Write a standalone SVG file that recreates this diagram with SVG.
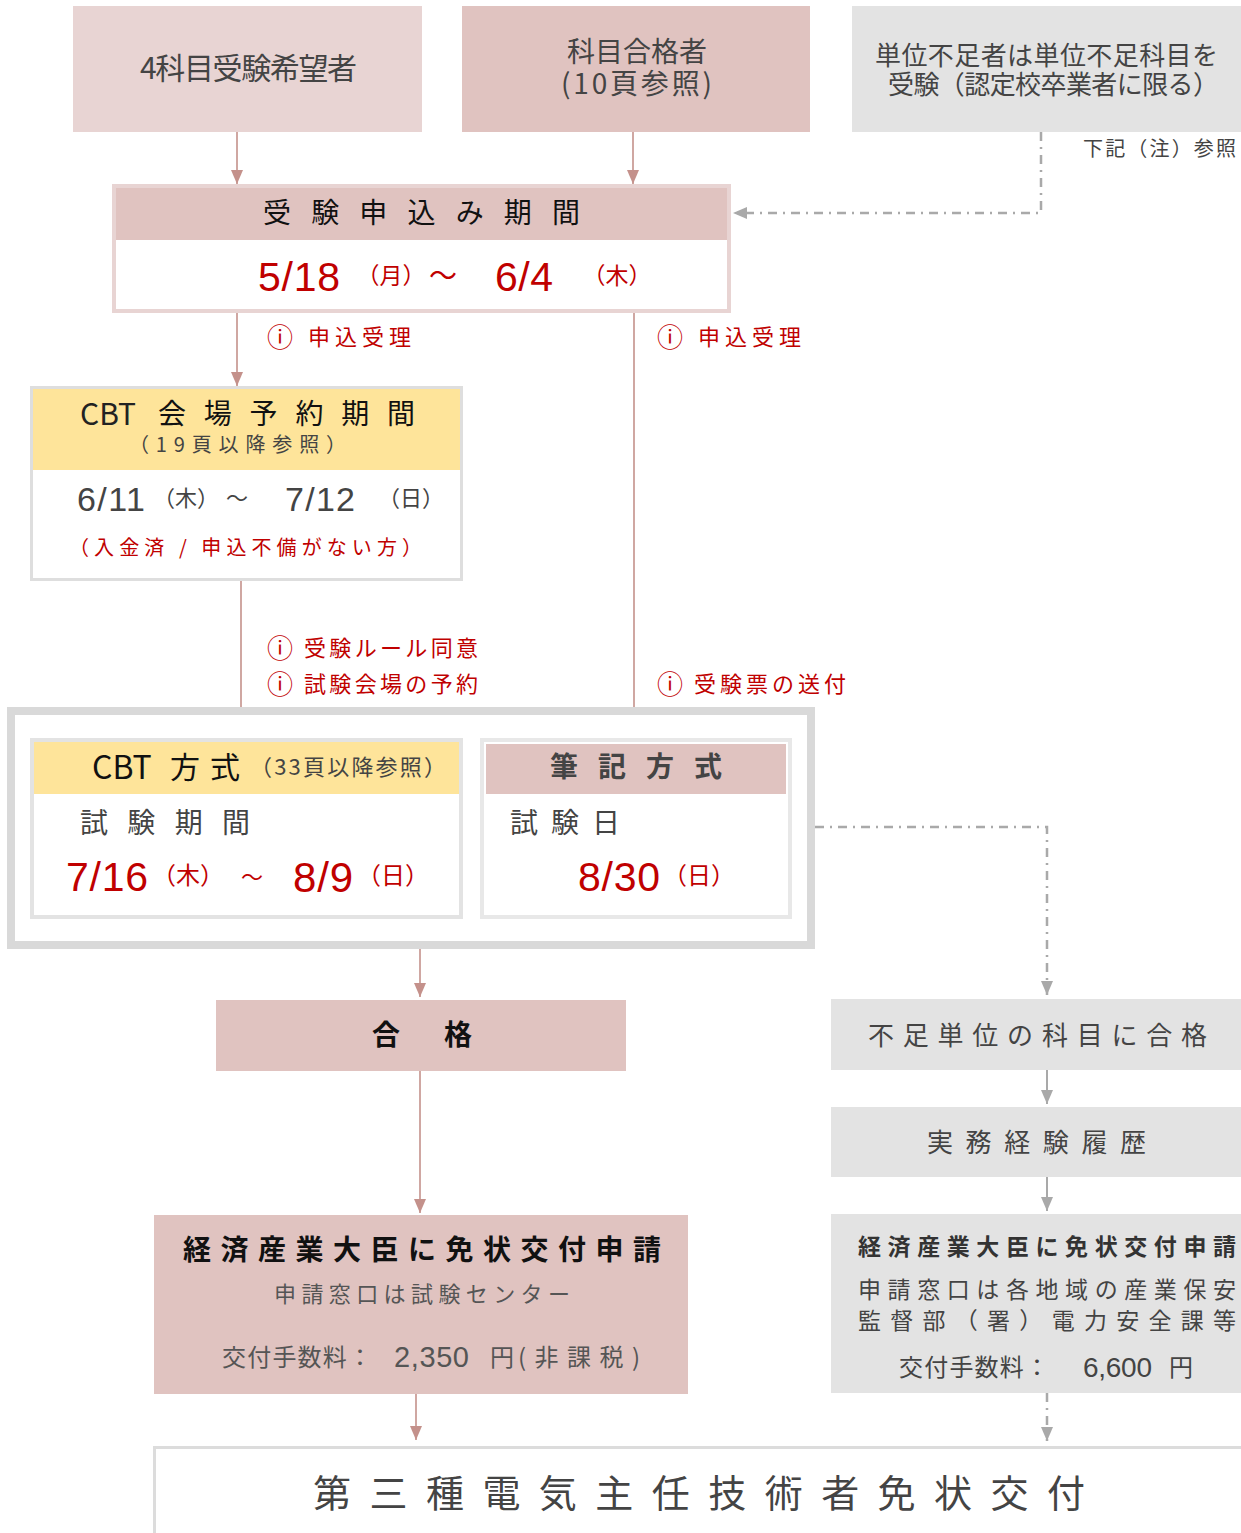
<svg xmlns="http://www.w3.org/2000/svg" width="1241" height="1533" viewBox="0 0 1241 1533">
<defs>
<style>
text{font-family:'Noto Sans CJK JP','Noto Sans',sans-serif;dominant-baseline:central}
.n{font-family:'Liberation Sans',Arial,sans-serif}
.g{fill:#444}
.r{fill:#c00000}
.k{fill:#111}
.i{font-size:26px}
.pk{stroke:#c4918b;stroke-width:1.6;fill:none}
.gy{stroke:#a9a9a9;stroke-width:2.5;fill:none;stroke-dasharray:9 6 2 6}
.gs{stroke:#a9a9a9;stroke-width:2;fill:none}
</style>
<marker id="ap" viewBox="0 0 14 12" markerWidth="14" markerHeight="12" refX="14" refY="6" orient="auto" markerUnits="userSpaceOnUse"><path d="M0,0L14,6L0,12Z" fill="#c4918b"/></marker>
<marker id="ag" viewBox="0 0 14 12" markerWidth="14" markerHeight="12" refX="14" refY="6" orient="auto" markerUnits="userSpaceOnUse"><path d="M0,0L14,6L0,12Z" fill="#a9a9a9"/></marker>
</defs>
<rect width="1241" height="1533" fill="#fff"/>

<g id="connectors">
<path class="pk" d="M237,132V184" marker-end="url(#ap)"/>
<path class="pk" d="M633,132V184" marker-end="url(#ap)"/>
<path class="pk" d="M237,313V386" marker-end="url(#ap)"/>
<path class="pk" d="M634,313V733" marker-end="url(#ap)"/>
<path class="pk" d="M241,580V737" marker-end="url(#ap)"/>
<path class="pk" d="M420,948V997" marker-end="url(#ap)"/>
<path class="pk" d="M420,1071V1213" marker-end="url(#ap)"/>
<path class="pk" d="M416,1394V1440" marker-end="url(#ap)"/>
<path class="gy" d="M1041,132V213H733" marker-end="url(#ag)"/>
<path class="gy" d="M815,827H1047V995" marker-end="url(#ag)"/>
<path class="gy" d="M1047,1393V1441" marker-end="url(#ag)"/>
<path class="gs" d="M1047,1070V1104" marker-end="url(#ag)"/>
<path class="gs" d="M1047,1177V1211" marker-end="url(#ag)"/>
</g>

<g id="n-4kamoku">
<rect x="73" y="6" width="349" height="126" fill="#e8d4d3"/>
<text class="g" x="140" y="66" font-size="30" textLength="217" lengthAdjust="spacing">4科目受験希望者</text>
</g>

<g id="n-kamokugoukaku">
<rect x="462" y="6" width="348" height="126" fill="#e0c3c0"/>
<text class="g" font-size="28"><tspan x="567" y="50" textLength="140" lengthAdjust="spacing">科目合格者</tspan><tspan x="561" y="82" textLength="151" lengthAdjust="spacing">(10頁参照)</tspan></text>
</g>

<g id="n-tanibusoku">
<rect x="852" y="6" width="389" height="126" fill="#e3e3e3"/>
<text class="g" font-size="26"><tspan x="875" y="53" textLength="343" lengthAdjust="spacing">単位不足者は単位不足科目を</tspan><tspan x="888" y="82" textLength="331" lengthAdjust="spacing">受験（認定校卒業者に限る）</tspan></text>
</g>
<text id="note" class="g" x="1083" y="147" font-size="20" textLength="153" lengthAdjust="spacing">下記（注）参照</text>

<g id="n-moushikomi">
<rect x="114" y="186" width="615" height="125" fill="#fff" stroke="#e8d4d3" stroke-width="4"/>
<rect x="116" y="188" width="611" height="52" fill="#e0c3c0"/>
<text class="k" x="263" y="211" font-size="28" textLength="317" lengthAdjust="spacing">受験申込み期間</text>
<text class="r n" x="258" y="277" font-size="41" textLength="82" lengthAdjust="spacing">5/18</text>
<text class="r" x="391" y="274" font-size="23" text-anchor="middle">（月）</text>
<text class="r" x="443" y="274" font-size="28" text-anchor="middle">〜</text>
<text class="r n" x="495" y="277" font-size="41" textLength="58" lengthAdjust="spacing">6/4</text>
<text class="r" x="617" y="274" font-size="23" text-anchor="middle">（木）</text>
</g>

<g id="lbl-uketsuke1">
<text class="r i" x="280" y="335" text-anchor="middle">ⓘ</text>
<text class="r" x="308" y="335" font-size="22" textLength="103" lengthAdjust="spacing">申込受理</text>
</g>
<g id="lbl-uketsuke2">
<text class="r i" x="670" y="335" text-anchor="middle">ⓘ</text>
<text class="r" x="698" y="335" font-size="22" textLength="103" lengthAdjust="spacing">申込受理</text>
</g>

<g id="n-cbtyoyaku">
<rect x="31.5" y="387.5" width="430" height="192" fill="#fff" stroke="#dedede" stroke-width="3"/>
<rect x="33" y="389" width="427" height="81" fill="#fee49a"/>
<text fill="#222" font-size="28"><tspan x="80" y="412" font-size="30">CBT</tspan><tspan x="158" y="412" fill="#111" textLength="257" lengthAdjust="spacing">会場予約期間</tspan><tspan x="129" y="443" font-size="20" fill="#444" textLength="217" lengthAdjust="spacing">（19頁以降参照）</tspan></text>
<text class="g n" x="77" y="499" font-size="34" textLength="68" lengthAdjust="spacing">6/11</text>
<text class="g" x="186" y="496" font-size="22" text-anchor="middle">（木）</text>
<text class="g" x="237" y="496" font-size="22" text-anchor="middle">〜</text>
<text class="g n" x="285" y="499" font-size="34" textLength="70" lengthAdjust="spacing">7/12</text>
<text class="g" x="411" y="496" font-size="22" text-anchor="middle">（日）</text>
<text class="r" x="69" y="546" font-size="20" textLength="353" lengthAdjust="spacing">（入金済 / 申込不備がない方）</text>
</g>

<g id="lbl-rule">
<text class="r i" x="280" y="646" text-anchor="middle">ⓘ</text>
<text class="r" x="304" y="646" font-size="22" textLength="174" lengthAdjust="spacing">受験ルール同意</text>
<text class="r i" x="280" y="682" text-anchor="middle">ⓘ</text>
<text class="r" x="304" y="682" font-size="22" textLength="174" lengthAdjust="spacing">試験会場の予約</text>
</g>
<g id="lbl-hyou">
<text class="r i" x="670" y="682" text-anchor="middle">ⓘ</text>
<text class="r" x="694" y="682" font-size="22" textLength="152" lengthAdjust="spacing">受験票の送付</text>
</g>

<g id="n-houshiki">
<rect x="11" y="711" width="800" height="234" fill="#fff" stroke="#d9d9d9" stroke-width="8"/>
</g>

<g id="n-cbt">
<rect x="32" y="740" width="429" height="177" fill="#fff" stroke="#e3e3e3" stroke-width="4"/>
<rect x="34" y="742" width="425" height="52" fill="#fee49a"/>
<text x="92" y="765" font-size="32" fill="#111">CBT</text>
<text x="170" y="765" font-size="30" fill="#111" textLength="70" lengthAdjust="spacing">方式</text>
<text class="g" x="250" y="765" font-size="22" textLength="196" lengthAdjust="spacing">（33頁以降参照）</text>
<text class="g" x="80" y="821" font-size="28" textLength="170" lengthAdjust="spacing">試験期間</text>
<text class="r n" x="66" y="877" font-size="41" textLength="82" lengthAdjust="spacing">7/16</text>
<text class="r" x="188" y="873" font-size="24" text-anchor="middle">（木）</text>
<text class="r" x="252" y="875" font-size="22" text-anchor="middle">〜</text>
<text class="r n" x="293" y="877" font-size="42" textLength="60" lengthAdjust="spacing">8/9</text>
<text class="r" x="393" y="873" font-size="24" text-anchor="middle">（日）</text>
</g>

<g id="n-hikki">
<rect x="482" y="740" width="308" height="177" fill="#fff" stroke="#e8e8e8" stroke-width="4"/>
<rect x="486" y="744" width="300" height="50" fill="#e0c3c0"/>
<text class="g" x="550" y="765" font-size="28" font-weight="bold" textLength="172" lengthAdjust="spacing">筆記方式</text>
<text class="g" x="510" y="821" font-size="28" textLength="110" lengthAdjust="spacing">試験日</text>
<text class="r n" x="578" y="877" font-size="41" textLength="82" lengthAdjust="spacing">8/30</text>
<text class="r" x="699" y="873" font-size="24" text-anchor="middle">（日）</text>
</g>

<g id="n-goukaku">
<rect x="216" y="1000" width="410" height="71" fill="#e0c3c0"/>
<text class="k" x="372" y="1033" font-size="28" font-weight="bold" textLength="100" lengthAdjust="spacing">合格</text>
</g>

<g id="n-shinsei1">
<rect x="154" y="1215" width="534" height="179" fill="#e0c3c0"/>
<text class="k" x="183" y="1248" font-size="28" font-weight="bold" textLength="478" lengthAdjust="spacing">経済産業大臣に免状交付申請</text>
<text x="274" y="1292" font-size="22" fill="#555" textLength="296" lengthAdjust="spacing">申請窓口は試験センター</text>
<text x="222" y="1355" font-size="24" fill="#555" textLength="150" lengthAdjust="spacing">交付手数料：</text>
<text class="n" x="394" y="1357" font-size="29" fill="#555" textLength="75" lengthAdjust="spacing">2,350</text>
<text x="490" y="1355" font-size="24" fill="#555">円</text>
<text x="518" y="1355" font-size="24" fill="#555" textLength="122" lengthAdjust="spacing">(非課税)</text>
</g>

<g id="n-fusoku">
<rect x="831" y="999" width="410" height="71" fill="#e3e3e3"/>
<text class="g" x="868" y="1033" font-size="26" textLength="339" lengthAdjust="spacing">不足単位の科目に合格</text>
</g>

<g id="n-jitsumu">
<rect x="831" y="1107" width="410" height="70" fill="#e3e3e3"/>
<text class="g" x="927" y="1140" font-size="26" textLength="219" lengthAdjust="spacing">実務経験履歴</text>
</g>

<g id="n-shinsei2">
<rect x="831" y="1214" width="410" height="179" fill="#e3e3e3"/>
<text x="858" y="1245" font-size="23" font-weight="bold" fill="#333" textLength="378" lengthAdjust="spacing">経済産業大臣に免状交付申請</text>
<text class="g" x="858" y="1288" font-size="23" textLength="378" lengthAdjust="spacing">申請窓口は各地域の産業保安</text>
<text class="g" x="858" y="1319" font-size="23" textLength="378" lengthAdjust="spacing">監督部（署）電力安全課等</text>
<text class="g" x="899" y="1365" font-size="24" textLength="150" lengthAdjust="spacing">交付手数料：</text>
<text class="g n" x="1083" y="1367" font-size="28" textLength="69" lengthAdjust="spacing">6,600</text>
<text class="g" x="1169" y="1365" font-size="24">円</text>
</g>

<g id="n-menjou">
<rect x="154.5" y="1447.5" width="1090" height="100" fill="#fff" stroke="#dcdcdc" stroke-width="3"/>
<text class="g" x="313" y="1490" font-size="38" textLength="772" lengthAdjust="spacing">第三種電気主任技術者免状交付</text>
</g>
</svg>
